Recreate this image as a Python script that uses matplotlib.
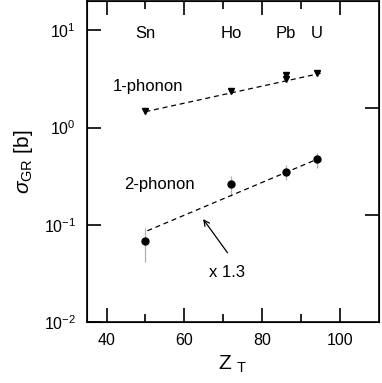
import matplotlib
matplotlib.use("Agg")
import matplotlib.pyplot as plt
from matplotlib.ticker import FixedLocator, NullLocator, NullFormatter

plt.rcParams["font.family"] = ["Liberation Sans", "DejaVu Sans"]
plt.rcParams["mathtext.fontset"] = "custom"
plt.rcParams["mathtext.rm"] = "Liberation Sans"
plt.rcParams["mathtext.it"] = "Liberation Sans:italic"
plt.rcParams["mathtext.sf"] = "Liberation Sans"

# target labels and their positions along Z_T
targets = ["Sn", "Ho", "Pb", "U"]
target_z = [50, 72, 86, 94]

# 1-phonon cross sections (Pb has two points)
z_1ph = [50, 72, 86, 86, 94]
sigma_1ph = [1.50, 2.41, 3.20, 3.50, 3.69]

# 2-phonon cross sections with asymmetric errors
z_2ph = [50, 72, 86, 94]
sigma_2ph = [0.068, 0.265, 0.352, 0.479]
err_lo_2ph = [0.026, 0.066, 0.062, 0.092]
err_hi_2ph = [0.025, 0.055, 0.063, 0.074]

# dashed trend lines (end points)
fit_1ph_z = [50, 95]
fit_1ph = [1.46, 3.62]
fit_2ph_z = [50.5, 94]
fit_2ph = [0.087, 0.471]

fig = plt.figure(figsize=(3.82, 3.83), dpi=100)
ax = fig.add_axes([0.228, 0.159, 0.764, 0.838])

ax.errorbar(z_2ph, sigma_2ph, yerr=[err_lo_2ph, err_hi_2ph], fmt="o",
            color="black", ms=5, ecolor="#b0b0b0", elinewidth=0.9, capsize=0)
ax.plot(z_1ph, sigma_1ph, "v", color="black", ms=5)
ax.plot(fit_1ph_z, fit_1ph, color="black", lw=0.9, dashes=(4, 3))
ax.plot(fit_2ph_z, fit_2ph, color="black", lw=0.9, dashes=(4, 3))

for name, z in zip(targets, target_z):
    ax.text(z, 9.3, name, ha="center", va="center", fontsize=12)

ax.text(41.5, 2.65, "1-phonon", ha="left", va="center", fontsize=12)
ax.text(44.6, 0.258, "2-phonon", ha="left", va="center", fontsize=12)
ax.text(71, 0.032, "x 1.3", ha="center", va="center", fontsize=12)
ax.annotate("", xy=(64.4, 0.121), xytext=(71.5, 0.049),
            arrowprops=dict(arrowstyle="->", color="black", lw=0.9))

ax.set_yscale("log")
ax.set_xlim(35, 110)
ax.set_ylim(0.01, 20)
ax.xaxis.set_major_locator(FixedLocator([40, 60, 80, 100]))
ax.xaxis.set_minor_locator(FixedLocator([50, 70, 90]))
ax.yaxis.set_major_locator(FixedLocator([0.01, 0.1, 1, 10]))
ax.yaxis.set_minor_locator(NullLocator())
ax.set_yticklabels(["$10^{-2}$", "$10^{-1}$", "$10^{0}$", "$10^{1}$"])
ax.tick_params(which="both", direction="in", top=True, right=False,
               labelsize=11.5, width=1.2)
ax.tick_params(which="major", length=10, pad=8)
ax.tick_params(which="minor", length=6)
for s in ax.spines.values():
    s.set_linewidth(1.2)

# right-side ticks
ax2 = ax.twinx()
ax2.set_yscale("log")
ax2.set_ylim(0.01, 20)
ax2.yaxis.set_major_locator(FixedLocator([0.127, 1.61]))
ax2.yaxis.set_minor_locator(NullLocator())
ax2.yaxis.set_major_formatter(NullFormatter())
ax2.tick_params(direction="in", length=10, width=1.2)

ax.set_xlabel("Z $_{\\mathrm{T}}$", fontsize=15, labelpad=4)
ax.set_ylabel("$\\sigma_{\\mathrm{GR}}$ [b]", fontsize=15, labelpad=6)

fig.savefig("out.png", dpi=100)
